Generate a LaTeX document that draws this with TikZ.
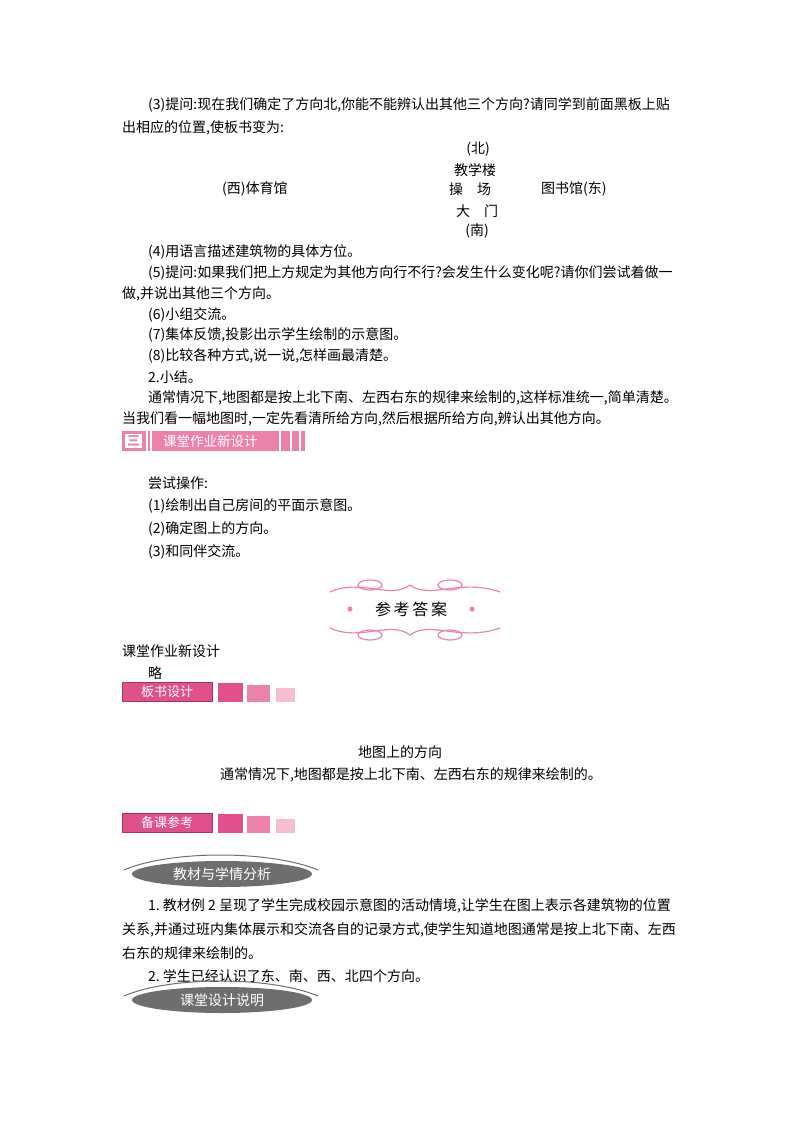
\documentclass[tikz,border=0pt]{standalone}
\usepackage{fontspec}
\setmainfont{Noto Sans CJK SC}
\usetikzlibrary{shapes.geometric}
\definecolor{pk}{RGB}{226,80,140}
\definecolor{pk2}{RGB}{236,130,170}
\definecolor{pk3}{RGB}{246,190,210}
\definecolor{gr}{RGB}{110,110,110}
\begin{document}
\begin{tikzpicture}[x=1pt,y=-1pt,
 t/.style={anchor=west,inner sep=0,font=\fontsize{14}{16}\selectfont},
 c/.style={inner sep=0,font=\fontsize{14}{16}\selectfont},
 ban/.style={fill=pk,draw=pk!70!black,inner sep=0,text=white,font=\fontsize{13}{15}\selectfont,minimum width=90,minimum height=19},
 sq/.style={inner sep=0,draw=none}]
\useasboundingbox (0,0) rectangle (800,1132);
\node[t] (l1) at (148,105) {(3)提问:现在我们确定了方向北,你能不能辨认出其他三个方向?请同学到前面黑板上贴};
\node[t] (l2) at (122,128) {出相应的位置,使板书变为:};
\node[c] (n) at (478,149) {(北)};
\node[c] (jx) at (475,170) {教学楼};
\node[t] (w) at (222,189) {(西)体育馆};
\node[c] (cc) at (470,189) {操\quad 场};
\node[t] (e) at (541,189) {图书馆(东)};
\node[c] (dm) at (477,211) {大\quad 门};
\node[c] (s) at (477,231) {(南)};
\node[t] (l4) at (148,252) {(4)用语言描述建筑物的具体方位。};
\node[t] (l5) at (148,273) {(5)提问:如果我们把上方规定为其他方向行不行?会发生什么变化呢?请你们尝试着做一};
\node[t] (l5b) at (122,294) {做,并说出其他三个方向。};
\node[t] (l6) at (148,315) {(6)小组交流。};
\node[t] (l7) at (148,335) {(7)集体反馈,投影出示学生绘制的示意图。};
\node[t] (l8) at (148,356) {(8)比较各种方式,说一说,怎样画最清楚。};
\node[t] (l9) at (148,377) {2.小结。};
\node[t] (l10) at (148,398) {通常情况下,地图都是按上北下南、左西右东的规律来绘制的,这样标准统一,简单清楚。};
\node[t] (l11) at (122,419) {当我们看一幅地图时,一定先看清所给方向,然后根据所给方向,辨认出其他方向。};
% header bar
\fill[pk2] (122,431) rectangle (305,451);
\fill[white] (125,434) rectangle (142,448);
\node[inner sep=0,text=pk2,font=\bfseries\fontsize{13}{13}\selectfont] (san) at (133.5,441) {三};
\foreach \x in {146,150,279,290,299}{\fill[white] (\x,431) rectangle (\x+1.5,451);}
\node[anchor=west,inner sep=0,text=white,font=\fontsize{13.5}{15}\selectfont] (ht) at (163,441) {课堂作业新设计};
\node[t] (a1) at (148,483) {尝试操作:};
\node[t] (a2) at (148,506) {(1)绘制出自己房间的平面示意图。};
\node[t] (a3) at (148,529) {(2)确定图上的方向。};
\node[t] (a4) at (148,552) {(3)和同伴交流。};
% ornament
\begin{scope}[pk2,line width=1.2]
\draw (330,592) .. controls (360,578) and (390,600) .. (410,585) .. controls (430,600) and (460,578) .. (500,592);
\draw (330,628) .. controls (360,642) and (390,620) .. (410,635) .. controls (430,620) and (460,642) .. (500,628);
\draw (370,585) ellipse (12 and 5);\draw (450,585) ellipse (12 and 5);
\draw (370,635) ellipse (12 and 5);\draw (450,635) ellipse (12 and 5);
\fill (350,609) circle (2.5);\fill (472,609) circle (2.5);
\end{scope}
\node[inner sep=0,font=\fontsize{16}{18}\selectfont] (ck) at (411,609) {参\,考\,答\,案};
\node[t] (b1) at (122,651) {课堂作业新设计};
\node[t] (b2) at (148,673) {略};
\node[ban] (bs) at (167,692) {板书设计};
\fill[pk] (218,683) rectangle (243,702);
\fill[pk2] (247,685) rectangle (270,702);
\fill[pk3] (276,688) rectangle (295,702);
\node[c] (t1) at (400,752) {地图上的方向};
\node[c] (t2) at (411,775) {通常情况下,地图都是按上北下南、左西右东的规律来绘制的。};
\node[ban] (bk) at (167,823) {备课参考};
\fill[pk] (218,814) rectangle (243,833);
\fill[pk2] (247,816) rectangle (270,833);
\fill[pk3] (276,819) rectangle (295,833);
\draw[gr,line width=1] (124,870) .. controls (170,850) and (270,850) .. (318,870);
\node[ellipse,fill=gr,minimum width=180,minimum height=26,inner sep=0,text=white,font=\fontsize{14}{16}\selectfont] (e1) at (222,874) {教材与学情分析};
\node[t] (c1) at (148,906) {1.\ 教材例 2 呈现了学生完成校园示意图的活动情境,让学生在图上表示各建筑物的位置};
\node[t] (c2) at (122,930) {关系,并通过班内集体展示和交流各自的记录方式,使学生知道地图通常是按上北下南、左西};
\node[t] (c3) at (122,953) {右东的规律来绘制的。};
\node[t] (c4) at (148,976) {2.\ 学生已经认识了东、南、西、北四个方向。};
\draw[gr,line width=1] (124,996) .. controls (170,976) and (270,976) .. (318,996);
\node[ellipse,fill=gr,minimum width=180,minimum height=26,inner sep=0,text=white,font=\fontsize{14}{16}\selectfont] (e2) at (222,1000) {课堂设计说明};
\end{tikzpicture}
\end{document}
